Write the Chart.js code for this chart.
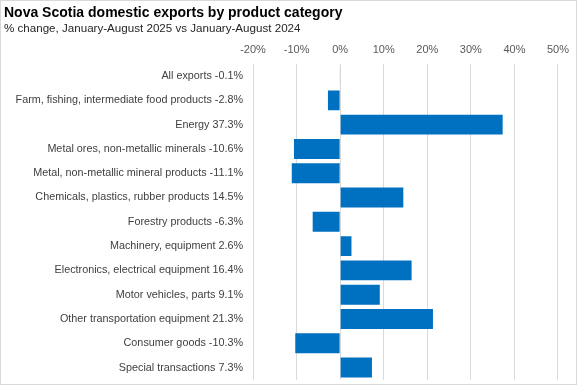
<!DOCTYPE html>
<html>
<head>
<meta charset="utf-8">
<script src="https://cdn.jsdelivr.net/npm/chart.js@4"></script>
<style>
  html, body { margin: 0; padding: 0; background: #fff; }
  #wrap { position: absolute; left: 0; top: 0; width: 575px; height: 383px; border: 1px solid #d9d9d9; }
</style>
</head>
<body>
<div id="wrap"><canvas id="chart" width="575" height="383"></canvas></div>
<script>
// chart data
const categories = [
    'All exports',
    'Farm, fishing, intermediate food products',
    'Energy',
    'Metal ores, non-metallic minerals',
    'Metal, non-metallic mineral products',
    'Chemicals, plastics, rubber products',
    'Forestry products',
    'Machinery, equipment',
    'Electronics, electrical equipment',
    'Motor vehicles, parts',
    'Other transportation equipment',
    'Consumer goods',
    'Special transactions'
];
const pctChange = [-0.1, -2.8, 37.3, -10.6, -11.1, 14.5, -6.3, 2.6, 16.4, 9.1, 21.3, -10.3, 7.3];
const xTicks = [-20, -10, 0, 10, 20, 30, 40, 50];

const FONT = "'Liberation Sans', Arial, sans-serif";

// label = name + value, like the original
const labels = categories.map((c, i) => c + ' ' + pctChange[i].toFixed(1) + '%');

const ctx = document.getElementById('chart').getContext('2d');
new Chart(ctx, {
    type: 'bar',
    data: {
        labels: labels,
        datasets: [{
            label: '% change',
            data: pctChange,
            backgroundColor: '#0070c0',
            borderWidth: 0,
            categoryPercentage: 0.82,
            barPercentage: 1.0
        }]
    },
    options: {
        indexAxis: 'y',
        responsive: false,
        animation: false,
        layout: { padding: { left: 3, right: 17, top: 0, bottom: 0 } },
        plugins: {
            legend: { display: false },
            tooltip: { enabled: false },
            title: {
                display: true,
                text: 'Nova Scotia domestic exports by product category',
                align: 'start',
                color: '#000',
                font: { family: FONT, size: 14, weight: 'bold' },
                padding: { top: 4, bottom: 0 }
            },
            subtitle: {
                display: true,
                text: '% change, January-August 2025 vs January-August 2024',
                align: 'start',
                color: '#262626',
                font: { family: FONT, size: 11.6 },
                padding: { top: 0, bottom: 1 }
            }
        },
        scales: {
            x: {
                position: 'top',
                min: xTicks[0],
                max: xTicks[xTicks.length - 1],
                afterBuildTicks: axis => { axis.ticks = xTicks.map(v => ({ value: v })); },
                ticks: {
                    color: '#595959',
                    font: { family: FONT, size: 11 },
                    padding: 7,
                    callback: v => v + '%'
                },
                grid: { color: '#d9d9d9', drawTicks: false, lineWidth: 1 },
                border: { display: false }
            },
            y: {
                afterFit: axis => { axis.width = 249; },
                ticks: {
                    color: '#404040',
                    font: { family: FONT, size: 10.8, lineHeight: 0.8 },
                    padding: 0,
                    autoSkip: false
                },
                grid: { display: false, drawTicks: true, tickLength: 10 },
                border: { display: false }
            }
        }
    }
});
</script>
</body>
</html>
